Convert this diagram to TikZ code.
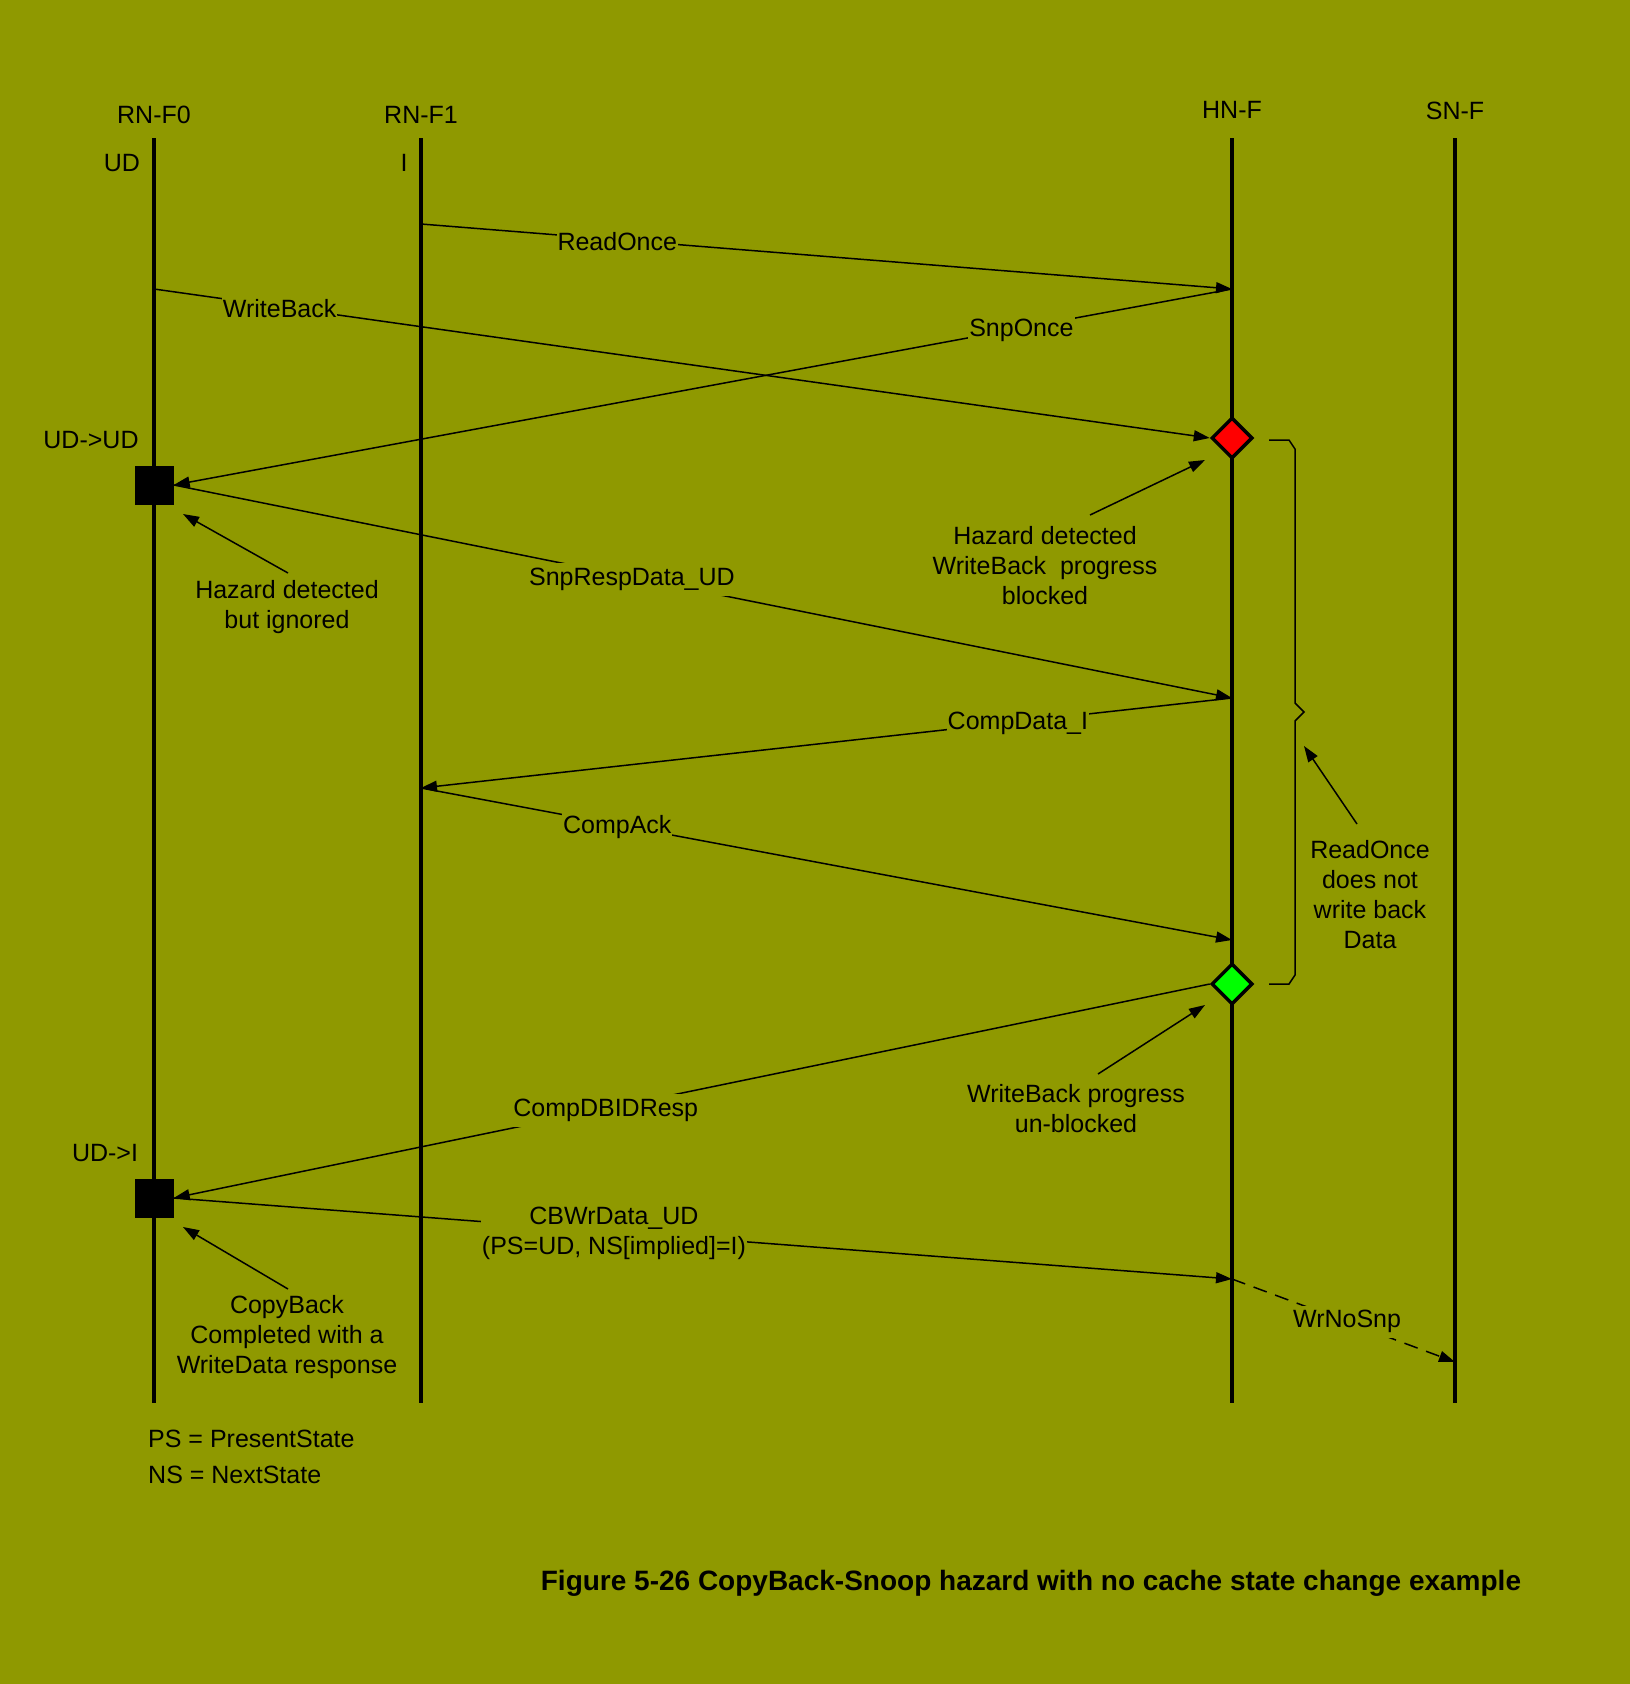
\documentclass[tikz,border=0pt]{standalone}
\usepackage{fontspec}
\setmainfont{Liberation Sans}
\usetikzlibrary{arrows.meta,shapes.geometric}
\definecolor{bgc}{RGB}{143,153,0}
\begin{document}
\begin{tikzpicture}[x=1pt,y=-1pt,
  font=\fontsize{25}{30}\selectfont,
  life/.style={line width=4pt},
  msg/.style={line width=1.5pt,-{Triangle[length=16pt,width=11pt]}},
  lbl/.style={fill=bgc,inner xsep=1pt,inner ysep=5pt,yshift=-2pt},
  txt/.style={align=center,inner sep=0pt},
  sq/.style={fill=black,minimum size=39pt,inner sep=0pt},
  dmd/.style={diamond,draw=black,line width=3.5pt,minimum width=41pt,minimum height=41pt,inner sep=0pt}]
\fill[bgc] (0,0) rectangle (1630,1684);
\useasboundingbox (0,0) rectangle (1630,1684);
% headers
\node (f0) at (154,115) {RN-F0};
\node (f1) at (421,115) {RN-F1};
\node (hn) at (1232,110) {HN-F};
\node (sn) at (1455,111) {SN-F};
\node (ud) at (122,163) {UD};
\node (ii) at (404,163) {I};
% lifelines
\coordinate (f0t) at (154,138); \coordinate (f0b) at (154,1403);
\coordinate (f1t) at (421,138); \coordinate (f1b) at (421,1403);
\coordinate (hnt) at (1232,138); \coordinate (hnb) at (1232,1403);
\coordinate (snt) at (1455,138); \coordinate (snb) at (1455,1403);
\draw[life] (f0t) -- (f0b);
\draw[life] (f1t) -- (f1b);
\draw[life] (hnt) -- (hnb);
\draw[life] (snt) -- (snb);
% state boxes and diamonds
\node[sq] (s1) at (154,485) {};
\node[sq] (s2) at (154,1198) {};
\node[dmd,fill=red] (rd) at (1232,438) {};
\node[dmd,fill={rgb,255:red,0;green,255;blue,0}] (gd) at (1232,984) {};
\node (s1l) at (91,440) {UD->UD};
\node (s2l) at (105,1153) {UD->I};
% messages
\coordinate (ro0) at (421,224);
\coordinate (ro1) at (1232,289);
\coordinate (wb0) at (154,289);
\coordinate (srd1) at (1232,698);
\coordinate (cd1) at (421,788);
\coordinate (ca1) at (1232,940);
\coordinate (cb1) at (1232,1279);
\coordinate (wn1) at (1455,1362);
\draw[msg] (ro0) -- node[lbl,pos=0.242]{ReadOnce} (ro1);
\draw[msg] (wb0) -- node[lbl,pos=0.119]{WriteBack} (rd.west);
\draw[msg] (ro1) -- node[lbl,pos=0.199]{SnpOnce} (s1.east);
\draw[msg] (s1.east) -- node[lbl,pos=0.433]{SnpRespData\_UD} (srd1);
\draw[msg] (srd1) -- node[lbl,pos=0.264]{CompData\_I} (cd1);
\draw[msg] (cd1) -- node[lbl,pos=0.242]{CompAck} (ca1);
\draw[msg] (gd.west) -- node[lbl,pos=0.583]{CompDBIDResp} (s2.east);
\draw[msg] (s2.east) -- node[lbl,pos=0.416,align=center]{CBWrData\_UD\\(PS=UD, NS[implied]=I)} (cb1);
\draw[msg,dash pattern=on 14pt off 9pt] (cb1) -- node[lbl,pos=0.516,yshift=2pt]{WrNoSnp} (wn1);
% brace
\draw[line width=1.5pt] (1269,440) -- (1289,440) -- (1295,449) -- (1295,703) -- (1304,712) -- (1295,721) -- (1295,975) -- (1289,984) -- (1269,984);
% annotations
\node[txt] (a1) at (287,607) {Hazard detected\\but ignored};
\node[txt] (a2) at (1045,566) {Hazard detected\\WriteBack\ \ progress\\blocked};
\node[txt] (a3) at (1370,895) {ReadOnce\\does not\\write back\\Data};
\node[txt] (a4) at (1076,1109) {WriteBack progress\\un-blocked};
\node[txt] (a5) at (287,1337) {CopyBack\\Completed with a\\WriteData response};
\coordinate (a1s) at (288,573); \coordinate (a1e) at (183,514);
\coordinate (a2s) at (1090,515); \coordinate (a2e) at (1205,460);
\coordinate (a3s) at (1357,824); \coordinate (a3e) at (1304,746);
\coordinate (a4s) at (1098,1074); \coordinate (a4e) at (1205,1005);
\coordinate (a5s) at (288,1289); \coordinate (a5e) at (183,1227);
\draw[msg] (a1s) -- (a1e);
\draw[msg] (a2s) -- (a2e);
\draw[msg] (a3s) -- (a3e);
\draw[msg] (a4s) -- (a4e);
\draw[msg] (a5s) -- (a5e);
% legend
\node[anchor=west,inner sep=0pt] (ps) at (148,1439) {PS = PresentState};
\node[anchor=west,inner sep=0pt] (ns) at (148,1475) {NS = NextState};
% caption
\node[font=\fontsize{28}{32}\selectfont\bfseries] (cap) at (1031,1583) {Figure 5-26 CopyBack-Snoop hazard with no cache state change example};
\end{tikzpicture}
\end{document}
